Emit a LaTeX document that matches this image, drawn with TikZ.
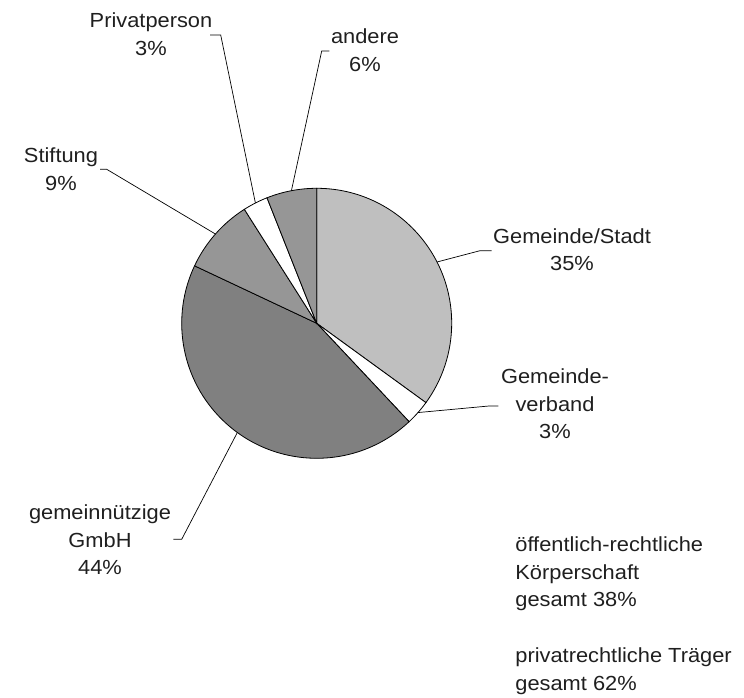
\documentclass[tikz,border=0pt]{standalone}
\usepackage{fontspec}
\setmainfont[FakeStretch=1.07]{Liberation Sans}
\usepackage{tikz}

\begin{document}
\begin{tikzpicture}[x=1pt,y=1pt,line width=0.8pt,
	lbl/.style={align=center,inner sep=0pt,text=black!88,font=\fontsize{20.4}{27.5}\selectfont},
	note/.style={align=left,anchor=west,inner sep=0pt,text=black!88,font=\fontsize{20.4}{27.5}\selectfont},
	wedge/.style={draw=black,line width=0.8pt},
	leader/.style={draw=black,line width=0.7pt}]
			\useasboundingbox (0,0) rectangle (744,698);
			\coordinate (c) at (316.7,374.7);
			% slices, clockwise from the top
			\filldraw[wedge,fill=black!25] (c) -- ([shift={(90:135)}]c) arc[start angle=90,end angle=-36,radius=135] -- cycle;
			\filldraw[wedge,fill=white] (c) -- ([shift={(-36:135)}]c) arc[start angle=-36,end angle=-46.8,radius=135] -- cycle;
			\filldraw[wedge,fill=black!50] (c) -- ([shift={(-46.8:135)}]c) arc[start angle=-46.8,end angle=-205.2,radius=135] -- cycle;
			\filldraw[wedge,fill=black!41] (c) -- ([shift={(-205.2:135)}]c) arc[start angle=-205.2,end angle=-237.6,radius=135] -- cycle;
			\filldraw[wedge,fill=white] (c) -- ([shift={(-237.6:135)}]c) arc[start angle=-237.6,end angle=-248.4,radius=135] -- cycle;
			\filldraw[wedge,fill=black!41] (c) -- ([shift={(-248.4:135)}]c) arc[start angle=-248.4,end angle=-270,radius=135] -- cycle;
			% labels
			\node[lbl] (stadt)at(572,448.5) {Gemeinde/Stadt\\35\%};
			\node[lbl] (verband)at(555,294) {Gemeinde-\\verband\\3\%};
			\node[lbl] (ggmbh)at(100,158) {gemeinnützige\\GmbH\\44\%};
			\node[lbl] (stiftung)at(61,529) {Stiftung\\9\%};
			\node[lbl] (privat)at(151,664) {Privatperson\\3\%};
			\node[lbl] (andere)at(365,648) {andere\\6\%};
			\node[note] (oeffentlich)at(515,124) {öffentlich-rechtliche\\Körperschaft\\gesamt 38\%};
			\node[note] (privatrecht)at(515,27) {privatrechtliche Träger\\gesamt 62\%};
			% leader points
			\coordinate (stadtE) at ([shift={(27:135)}]c);
			\coordinate (stadtK) at (480,447.3);
			\coordinate (stadtT) at (491.7,447.3);
			\coordinate (verbandE) at ([shift={(-41.4:135)}]c);
			\coordinate (verbandK) at (489,292);
			\coordinate (verbandT) at (498.3,292);
			\coordinate (ggmbhE) at ([shift={(-126:135)}]c);
			\coordinate (ggmbhK) at (181.7,158.7);
			\coordinate (ggmbhT) at (173.3,158.7);
			\coordinate (stiftungE) at ([shift={(138.6:135)}]c);
			\coordinate (stiftungK) at (106.7,528.7);
			\coordinate (stiftungT) at (100,528.7);
			\coordinate (privatE) at ([shift={(117:135)}]c);
			\coordinate (privatK) at (220.7,663);
			\coordinate (privatT) at (210,663);
			\coordinate (andereE) at ([shift={(100.8:135)}]c);
			\coordinate (andereK) at (321.7,647);
			\coordinate (andereT) at (329.3,647);
			\draw[leader] (stadtE) -- (stadtK) -- (stadtT);
			\draw[leader] (verbandE) -- (verbandK) -- (verbandT);
			\draw[leader] (ggmbhE) -- (ggmbhK) -- (ggmbhT);
			\draw[leader] (stiftungE) -- (stiftungK) -- (stiftungT);
			\draw[leader] (privatE) -- (privatK) -- (privatT);
			\draw[leader] (andereE) -- (andereK) -- (andereT);
		\end{tikzpicture}
\end{document}
